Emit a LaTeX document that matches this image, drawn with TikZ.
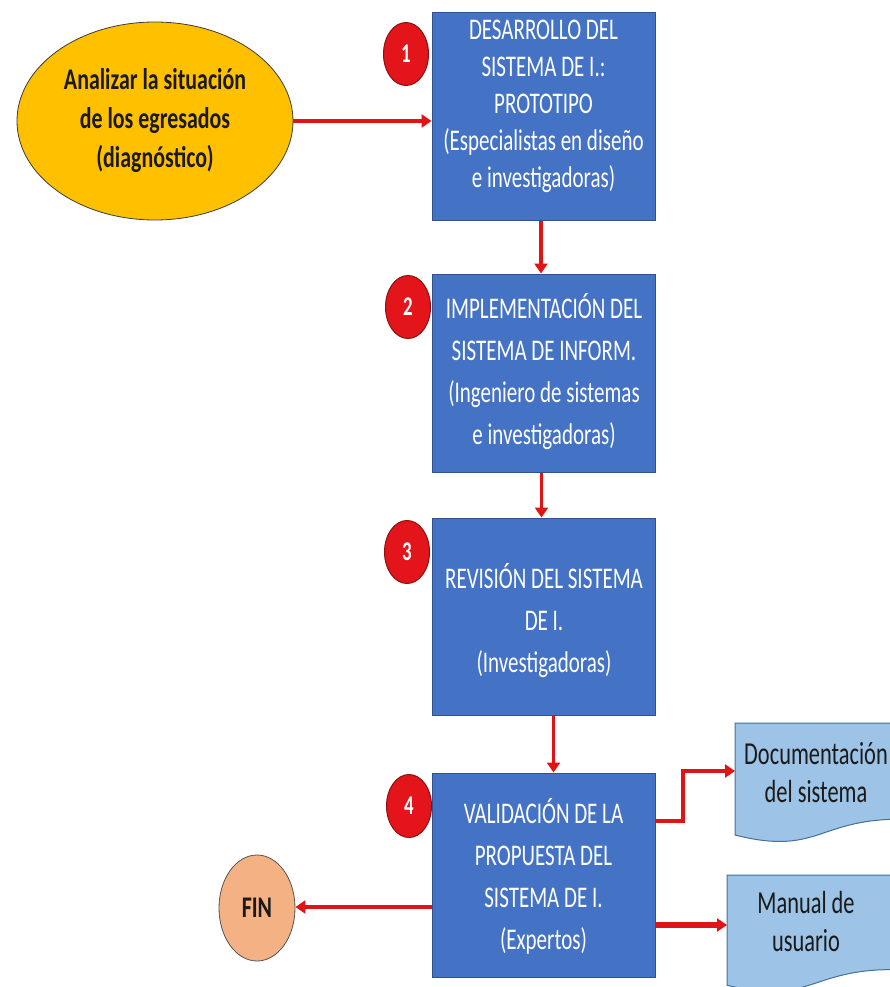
\documentclass[tikz,border=0pt]{standalone}
\usepackage{fontspec}
\setmainfont{Carlito}[FakeStretch=0.70]
\newfontfamily\wideboldfont{Carlito}[FakeStretch=0.73]
\usetikzlibrary{arrows.meta,shapes.geometric}
\definecolor{boxblue}{HTML}{4472C4}
\definecolor{boxedge}{HTML}{2F528F}
\definecolor{gold}{HTML}{FFC000}
\definecolor{numred}{HTML}{E3151A}
\definecolor{numedge}{HTML}{8E0F0F}
\definecolor{arrred}{HTML}{E01414}
\definecolor{finfill}{HTML}{F4B183}
\definecolor{docfill}{HTML}{9DC3E6}
\definecolor{docedge}{HTML}{41719C}
\definecolor{txtdark}{HTML}{1A1A1A}
\tikzset{
  stepbox/.style={draw=boxedge,line width=1pt,fill=boxblue,minimum width=223pt,inner sep=0pt},
  boxtext/.style={text=white,align=center,inner sep=0pt},
  numdot/.style={ellipse,draw=numedge,line width=1pt,fill=numred,minimum width=45pt,
    minimum height=63pt,inner sep=0pt,text=white,font=\bfseries\fontsize{27}{29}\selectfont},
  arr/.style={draw=arrred,line width=3.5pt,-{Triangle[length=10pt,width=13pt]}},
  doctext/.style={text=txtdark,align=center,font=\fontsize{32}{38}\selectfont},
  docshape/.style={draw=docedge,line width=1pt,fill=docfill},
}
\begin{document}
\begin{tikzpicture}[x=1pt,y=-1pt]
\useasboundingbox (0,0) rectangle (890,987);
\clip (0,0) rectangle (890,987);
% documents
\draw[docshape] (735,723) -- (900,723) -- (900,819.2)
  .. controls (817.5,819.2) and (817.5,856) .. (735,835) -- cycle;
\draw[docshape] (727,875) -- (892,875) -- (892,969.6)
  .. controls (809.5,969.6) and (809.5,1005.7) .. (727,985.2) -- cycle;
\node[doctext] (d1) at (816,773) {Documentación\\del sistema};
\node[doctext] (d2) at (806,921) {Manual de\\usuario};
\coordinate (d1in) at (735,771);
\coordinate (d2in) at (727,925);
% main boxes
\node[stepbox,minimum height=207pt] (b1) at (543.5,116.5) {};
\node[stepbox,minimum height=198pt] (b2) at (544,373) {};
\node[stepbox,minimum height=197pt] (b3) at (544,616.5) {};
\node[stepbox,minimum height=204pt] (b4) at (543.5,875) {};
\node[boxtext,font=\fontsize{30}{37}\selectfont] (t1) at (543.5,106) {DESARROLLO DEL\\SISTEMA DE I.:\\PROTOTIPO\\(Especialistas en diseño\\e investigadoras)};
\node[boxtext,font=\fontsize{30}{42}\selectfont] (t2) at (544,372) {IMPLEMENTACIÓN DEL\\SISTEMA DE INFORM.\\(Ingeniero de sistemas\\e investigadoras)};
\node[boxtext,font=\fontsize{30}{42}\selectfont] (t3) at (544,621) {REVISIÓN DEL SISTEMA\\DE I.\\(Investigadoras)};
\node[boxtext,font=\fontsize{30}{42}\selectfont] (t4) at (543.5,876) {VALIDACIÓN DE LA\\PROPUESTA DEL\\SISTEMA DE I.\\(Expertos)};
% number dots
\node[numdot] (n1) at (406,54) {1};
\node[numdot] (n2) at (408,307) {2};
\node[numdot] (n3) at (407,552) {3};
\node[numdot] (n4) at (409,806) {4};
% start ellipse
\node[ellipse,draw=txtdark!85,line width=0.8pt,fill=gold,minimum width=276pt,minimum height=198pt,
  align=center,text=txtdark,font=\wideboldfont\bfseries\fontsize{30}{39}\selectfont] (e) at (155,121)
  {Analizar la situación\\de los egresados\\(diagnóstico)};
% FIN
\node[ellipse,draw=txtdark!75,line width=0.8pt,fill=finfill,minimum width=76pt,minimum height=106pt,
  text=txtdark,font=\wideboldfont\bfseries\fontsize{30}{32}\selectfont] (fin) at (257,908) {FIN};
% connectors
\draw[arr] (e.east) -- (e.east -| b1.west);
\draw[arr] ([xshift=-2.5pt]b1.south) -- ([xshift=-2.5pt]b1.south |- b2.north);
\draw[arr] ([xshift=-2.5pt]b2.south) -- ([xshift=-2.5pt]b2.south |- b3.north);
\draw[arr] ([xshift=9.5pt]b3.south) -- ([xshift=9.5pt]b3.south |- b4.north);
\draw[arr] (b4.east |- 0,821) -- (683,821) -- (683,771) -- (d1in);
\draw[arr,line width=5.5pt] (b4.east |- d2in) -- (d2in);
\draw[arr] (b4.west |- 0,907) -- (fin.east |- 0,907);
\end{tikzpicture}
\end{document}
